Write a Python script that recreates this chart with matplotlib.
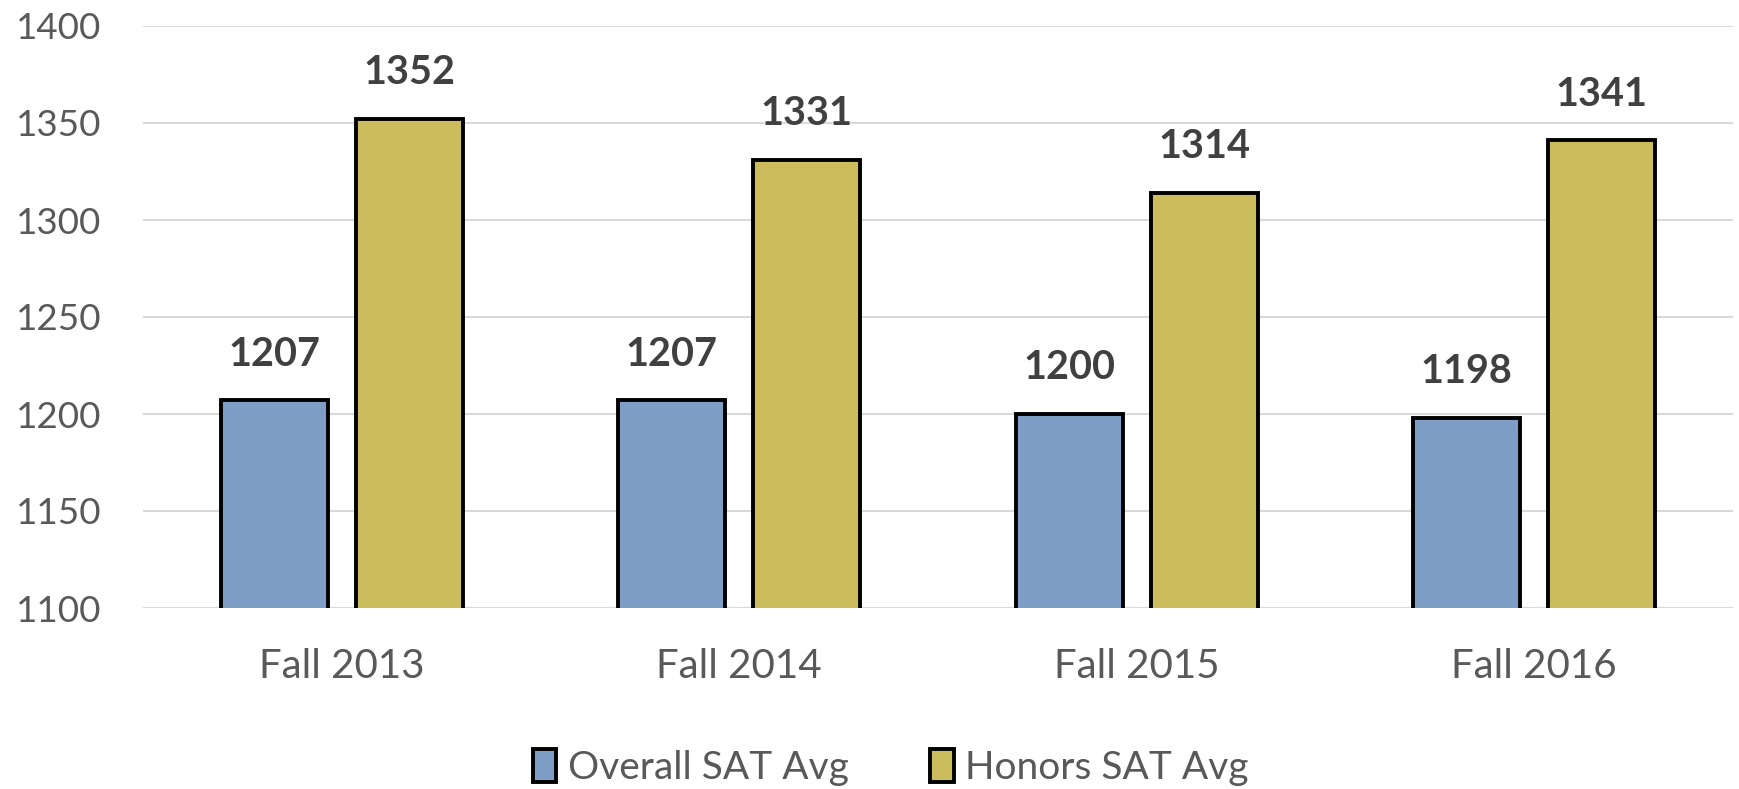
import numpy as np
import matplotlib.pyplot as plt
from matplotlib.patches import Patch

plt.rcParams['font.family'] = ['Lato', 'DejaVu Sans']

# datos
categorias = ['Fall 2013', 'Fall 2014', 'Fall 2015', 'Fall 2016']
overall_sat = [1207, 1207, 1200, 1198]
honors_sat = [1352, 1331, 1314, 1341]
y_ticks = [1100, 1150, 1200, 1250, 1300, 1350, 1400]

color_azul = '#7F9EC5'
color_oro = '#CBBD5E'
gris_texto = '#595959'

fig = plt.figure(figsize=(17.4, 7.89), dpi=100)
ax = fig.add_axes([143 / 1740, 1 - 608 / 789, (1733 - 143) / 1740, (608 - 26) / 789])

x = np.arange(len(categorias))
ancho = 0.27
desp = 0.17

barras1 = ax.bar(x - desp, overall_sat, ancho, bottom=0, color=color_azul,
                 edgecolor='black', linewidth=2.8, zorder=3)
barras2 = ax.bar(x + desp, honors_sat, ancho, bottom=0, color=color_oro,
                 edgecolor='black', linewidth=2.8, zorder=3)

for barras in (barras1, barras2):
    for b in barras:
        ax.annotate(str(int(b.get_height())),
                    (b.get_x() + b.get_width() / 2, b.get_height()),
                    xytext=(0, 20), textcoords='offset points',
                    ha='center', va='bottom', fontsize=28.5, fontweight='bold',
                    color='#404040')

ax.set_ylim(1100, 1400)
ax.set_xlim(-0.5, 3.5)
ax.set_yticks(y_ticks)
ax.set_xticks(x)
ax.set_xticklabels(categorias)
ax.tick_params(axis='both', length=0, labelcolor=gris_texto)
ax.tick_params(axis='y', pad=30, labelsize=26.5)
ax.tick_params(axis='x', pad=29, labelsize=29)
ax.grid(axis='y', color='#D9D9D9', linewidth=1.5, zorder=0)
for s in ax.spines.values():
    s.set_visible(False)

handles = [Patch(facecolor=color_azul, edgecolor='black', linewidth=2.8),
           Patch(facecolor=color_oro, edgecolor='black', linewidth=2.8)]
fig.legend(handles, ['Overall SAT Avg', 'Honors SAT Avg'], loc='center',
           bbox_to_anchor=(0.512, 0.027), ncol=2, frameon=False, fontsize=28,
           labelcolor=gris_texto, handlelength=0.6, handleheight=0.9,
           handletextpad=0.3, columnspacing=2.1)

plt.savefig('out.png', dpi=100)
